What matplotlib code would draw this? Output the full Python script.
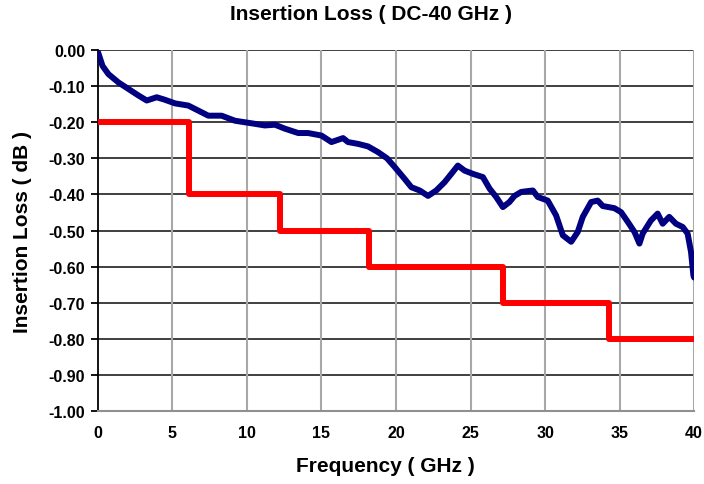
import matplotlib.pyplot as plt
import numpy as np

# measured insertion loss (GHz, dB)
freq = [0.0, 0.09, 0.31, 0.71, 1.38, 2.05, 2.72, 3.28, 3.95, 4.5, 5.18, 6.07,
        6.74, 7.41, 8.3, 9.2, 10.3, 11.2, 11.88, 12.55, 13.44, 14.1, 15.0,
        15.67, 16.45, 16.78, 17.45, 18.12, 18.8, 19.4, 19.91, 20.58, 21.03,
        21.59, 22.15, 22.7, 23.26, 23.71, 24.15, 24.6, 25.16, 25.83, 26.28,
        26.72, 27.17, 27.61, 27.95, 28.4, 29.18, 29.51, 30.18, 30.74, 31.19,
        31.75, 32.19, 32.53, 33.09, 33.53, 33.87, 34.65, 35.1, 35.55, 36.0,
        36.33, 36.55, 37.1, 37.55, 37.89, 38.33, 38.78, 39.23, 39.56, 39.79,
        39.95, 40.0]
loss = [-0.005, -0.016, -0.044, -0.067, -0.09, -0.108, -0.126, -0.14, -0.131,
        -0.138, -0.148, -0.154, -0.168, -0.182, -0.182, -0.196, -0.203, -0.209,
        -0.207, -0.218, -0.23, -0.23, -0.237, -0.255, -0.244, -0.255, -0.26,
        -0.267, -0.283, -0.300, -0.324, -0.357, -0.38, -0.389, -0.404, -0.389,
        -0.366, -0.343, -0.32, -0.334, -0.343, -0.352, -0.384, -0.407, -0.435,
        -0.421, -0.404, -0.393, -0.389, -0.407, -0.417, -0.458, -0.513, -0.531,
        -0.504, -0.462, -0.421, -0.417, -0.432, -0.438, -0.449, -0.476, -0.504,
        -0.536, -0.508, -0.472, -0.453, -0.481, -0.462, -0.481, -0.49, -0.508,
        -0.559, -0.624, -0.63]

# specification limit
spec_freq = [0.0, 6.1, 6.1, 12.2, 12.2, 18.2, 18.2, 27.2, 27.2, 34.3, 34.3, 40.0]
spec_loss = [-0.2, -0.2, -0.4, -0.4, -0.5, -0.5, -0.6, -0.6, -0.7, -0.7, -0.8, -0.8]

plt.rcParams['font.family'] = ['Liberation Sans', 'DejaVu Sans']
plt.rcParams['font.weight'] = 'bold'

fig = plt.figure(figsize = (7.04, 4.85), dpi = 100)
ax = fig.add_axes([0.139, 0.150, 0.847, 0.745])

for y in np.arange(-0.9, 0.01, 0.1):
	ax.axhline(y, c = '#303030', lw = 1.3, zorder = 1)
for x in range(5, 41, 5):
	ax.axvline(x, c = '#a8a8a8', lw = 1.5, zorder = 1)

ax.plot(spec_freq, spec_loss, c = '#ff0000', lw = 4.3, zorder = 3)
ax.plot(freq, loss, c = '#000080', lw = 4.3, zorder = 4,
	solid_joinstyle = 'round', solid_capstyle = 'round')

ax.set_xlim([0, 40])
ax.set_ylim([-1.0, 0.0])
ax.set_xticks(range(0, 41, 5))
yt = np.round(np.arange(-1.0, 0.01, 0.1), 2)
ax.set_yticks(yt)
ax.set_yticklabels(["%.2f" % abs(v) if v == 0 else "%.2f" % v for v in yt])
ax.tick_params(axis = 'y', length = 5, width = 1.3, color = 'k', labelsize = 11.5, pad = 4)
ax.tick_params(axis = 'x', length = 0, labelsize = 11.5, pad = 10)

for s in ['top', 'right']:
	ax.spines[s].set_visible(False)
ax.spines['left'].set_color('k')
ax.spines['left'].set_linewidth(1.3)
ax.spines['bottom'].set_color('#909090')
ax.spines['bottom'].set_linewidth(1.5)

fig.text(371 / 704, 1 - 15 / 485, "Insertion Loss ( DC-40 GHz )", fontsize = 15,
	fontweight = 'bold', ha = 'center', va = 'center')
fig.text(385 / 704, 1 - 467 / 485, "Frequency ( GHz )", fontsize = 15,
	fontweight = 'bold', ha = 'center', va = 'center')
fig.text(23 / 704, 1 - 232 / 485, "Insertion Loss ( dB )", fontsize = 15,
	fontweight = 'bold', ha = 'center', va = 'center', rotation = 90)

plt.savefig("out.png")
